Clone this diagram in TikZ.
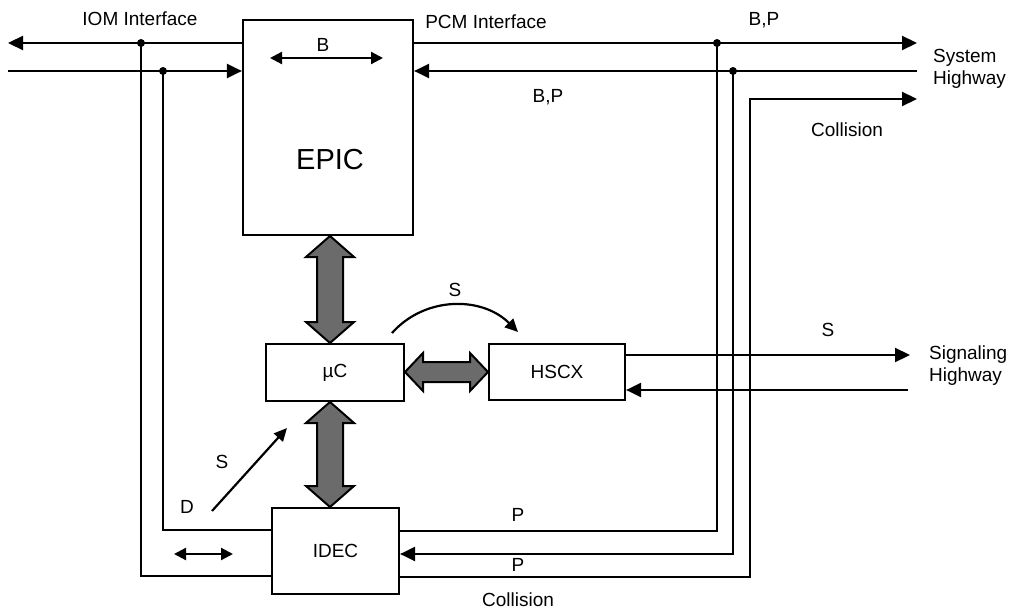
\documentclass[tikz,border=0pt]{standalone}
\usepackage{fontspec}
\setmainfont{Liberation Sans}
\usetikzlibrary{arrows.meta,calc}
\begin{document}
\begin{tikzpicture}[x=1pt,y=-1pt,
  line width=2.2pt,
  box/.style={draw,rectangle,inner sep=0pt,line width=2.2pt},
  lbl/.style={font=\fontsize{19}{22}\selectfont,inner sep=0pt},
  tip/.style={-{Triangle[length=15pt,width=14pt]}},
  stip/.style={{Triangle[length=12pt,width=12pt]}-{Triangle[length=12pt,width=12pt]}},
  bus/.style={draw,line width=2pt,fill=black!58,line join=miter},
  dot/.style={circle,fill,inner sep=0pt,minimum size=8pt}]
\useasboundingbox (0,0) rectangle (1012,610);
% boxes
\node[box,minimum width=170pt,minimum height=215pt] (epic) at (328,127.5) {};
\node[lbl,font=\fontsize{29}{32}\selectfont] (epiclbl) at (330,160) {EPIC};
\node[box,minimum width=138pt,minimum height=57pt,lbl] (uc) at (335,372.5) {µC};
\node[box,minimum width=136pt,minimum height=56pt,lbl] (hscx) at (557,372) {HSCX};
\node[box,minimum width=127pt,minimum height=86pt,lbl] (idec) at (335.5,551) {IDEC};
% junctions and free ends
\node[dot] (j1) at (141,43) {};
\node[dot] (j2) at (163,71) {};
\node[dot] (j3) at (717,43) {};
\node[dot] (j4) at (733,71) {};
\coordinate (iomout) at (8,43);
\coordinate (iomin) at (8,71);
\coordinate (pcmout) at (917,43);
\coordinate (pcmin) at (917,71);
\coordinate (colout) at (917,99);
\coordinate (colc) at (750,99);
\coordinate (sigout) at (910,355);
\coordinate (sigin) at (908,390);
% IOM interface
\draw[tip] (epic.west |- j1) -- (j1.center) -- (iomout);
\draw[tip] (iomin) -- (j2.center) -- (epic.west |- j2);
\draw (j1.center) -- (j1 |- 0,576) -- (idec.west |- 0,576);
\draw (j2.center) -- (j2 |- 0,530) -- (idec.west |- 0,530);
% PCM interface
\draw[tip] (epic.east |- j3) -- (j3.center) -- (pcmout);
\draw[tip] (pcmin) -- (j4.center) -- (epic.east |- j4);
\draw (j3.center) -- (j3 |- 0,531) -- (idec.east |- 0,531);
\draw[tip] (j4.center) -- (j4 |- 0,554) -- (idec.east |- 0,554);
\draw[tip] (idec.east |- 0,577) -- (colc |- 0,577) -- (colc) -- (colout);
% signaling highway
\draw[tip] (hscx.east |- sigout) -- (sigout);
\draw[tip] (sigin) -- (hscx.east |- sigin);
% small arrows
\coordinate (ba) at (270,58); \coordinate (bb) at (383,58);
\draw[stip] (ba) -- (bb);
\coordinate (sa) at (174,554); \coordinate (sb) at (233,554);
\draw[stip] (sa) -- (sb);
\coordinate (da) at (212,511); \coordinate (db) at (287,428);
\draw[-{Triangle[length=13pt,width=12pt]}] (da) -- (db);
\coordinate (ca) at (392,333); \coordinate (cb) at (518,332);
\draw[-{Triangle[length=13pt,width=12pt]}] (ca) .. controls (425,296) and (482,296) .. (cb);
% thick buses
\draw[bus] (330,236) -- (354,257) -- (343,257) -- (343,322) -- (354,322) -- (330,343)
  -- (306,322) -- (317,322) -- (317,257) -- (306,257) -- cycle;
\draw[bus] (330,402) -- (354,423) -- (343,423) -- (343,486) -- (354,486) -- (330,507)
  -- (306,486) -- (317,486) -- (317,423) -- (306,423) -- cycle;
\draw[bus] (405,372) -- (423,353) -- (423,362) -- (470,362) -- (470,353) -- (488,372)
  -- (470,391) -- (470,382) -- (423,382) -- (423,391) -- cycle;
% labels
\node[lbl] (tiom) at (140,19) {IOM Interface};
\node[lbl] (tpcm) at (486,22) {PCM Interface};
\node[lbl] (tb) at (323,45) {B};
\node[lbl] (tbp1) at (764,20) {B,P};
\node[lbl] (tbp2) at (548,97) {B,P};
\node[lbl,align=left,anchor=west] (tsys) at (932,69) {System\\Highway};
\node[lbl] (tcol1) at (847,130) {Collision};
\node[lbl] (ts1) at (455,290) {S};
\node[lbl] (ts2) at (828,330) {S};
\node[lbl,align=left,anchor=west] (tsig) at (928,366) {Signaling\\Highway};
\node[lbl] (ts3) at (222,462) {S};
\node[lbl] (td) at (187,507) {D};
\node[lbl] (tp1) at (518,515) {P};
\node[lbl] (tp2) at (518,565) {P};
\node[lbl] (tcol2) at (518,600) {Collision};
\end{tikzpicture}
\end{document}
